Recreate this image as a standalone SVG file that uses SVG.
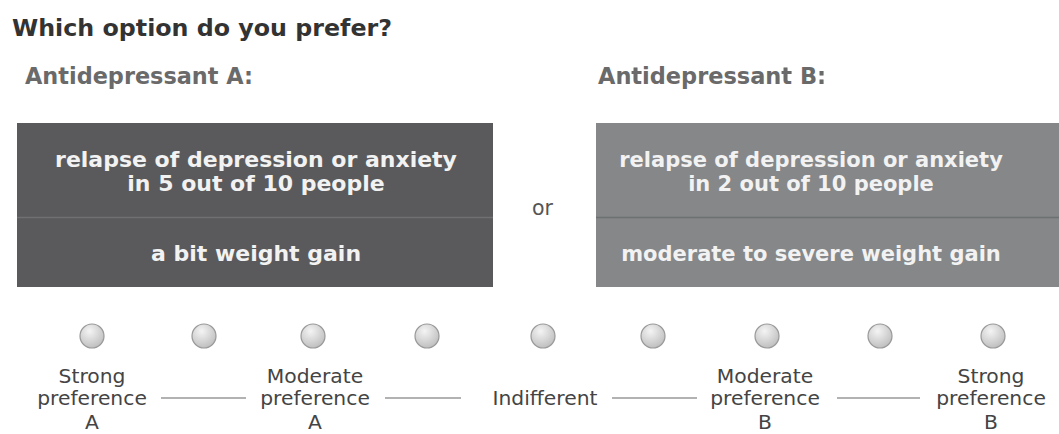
<svg xmlns="http://www.w3.org/2000/svg" width="1059" height="434" viewBox="0 0 1059 434">
<style>
.title{font-family:"DejaVu Sans",Verdana,sans-serif;font-weight:bold;font-size:23.5px;fill:#333}
.sub{font-family:"DejaVu Sans",Verdana,sans-serif;font-weight:bold;font-size:23px;fill:#6a6a6a}
.box{font-family:"DejaVu Sans",Verdana,sans-serif;font-weight:bold;font-size:22px;fill:#f2f2f2;text-anchor:middle}
.boxb{font-family:"DejaVu Sans",Verdana,sans-serif;font-weight:bold;font-size:21px;fill:#f2f2f2;text-anchor:middle}
.lbl{font-family:"DejaVu Sans",Verdana,sans-serif;font-size:20.3px;fill:#444;text-anchor:middle}
.or{font-family:"DejaVu Sans",Verdana,sans-serif;font-size:20.5px;fill:#555}
.rad{fill:url(#g);stroke:#999;stroke-width:1.2}
.conn{stroke:#999;stroke-width:1.5}
</style>
<defs>
<radialGradient id="g" cx="0.4" cy="0.3" r="0.8">
<stop offset="0" stop-color="#f4f4f4"/>
<stop offset="1" stop-color="#b8b8b8"/>
</radialGradient>
</defs>
<rect width="1059" height="434" fill="#fff"/>
<text class="title" x="12" y="36" textLength="380" lengthAdjust="spacingAndGlyphs">Which option do you prefer?</text>
<g id="optionA">
<text class="sub" x="25" y="84" textLength="228" lengthAdjust="spacingAndGlyphs">Antidepressant A:</text>
<rect x="17" y="123" width="476" height="164" fill="#5a5a5c"/>
<line x1="17" y1="217.5" x2="493" y2="217.5" stroke="#707072" stroke-width="1.5"/>
<text class="box" x="256" y="167">relapse of depression or anxiety</text>
<text class="box" x="256" y="191">in 5 out of 10 people</text>
<text class="box" x="256" y="261">a bit weight gain</text>
</g>
<text class="or" x="532" y="215">or</text>
<g id="optionB">
<text class="sub" x="598" y="84" textLength="228" lengthAdjust="spacingAndGlyphs">Antidepressant B:</text>
<rect x="596" y="123" width="470" height="164" fill="#858789"/>
<line x1="596" y1="217.5" x2="1059" y2="217.5" stroke="#6e7072" stroke-width="1.5"/>
<text class="boxb" x="811" y="167">relapse of depression or anxiety</text>
<text class="boxb" x="811" y="191">in 2 out of 10 people</text>
<text class="boxb" x="811" y="261">moderate to severe weight gain</text>
</g>
<g id="radios">
<circle class="rad" cx="92" cy="336" r="12"/>
<circle class="rad" cx="204" cy="336" r="12"/>
<circle class="rad" cx="313" cy="336" r="12"/>
<circle class="rad" cx="427" cy="336" r="12"/>
<circle class="rad" cx="543" cy="336" r="12"/>
<circle class="rad" cx="653" cy="336" r="12"/>
<circle class="rad" cx="767" cy="336" r="12"/>
<circle class="rad" cx="880" cy="336" r="12"/>
<circle class="rad" cx="993" cy="336" r="12"/>
</g>
<g id="labels">
<text class="lbl" x="92" y="383">Strong</text>
<text class="lbl" x="92" y="405">preference</text>
<text class="lbl" x="92" y="429">A</text>
<text class="lbl" x="315" y="383">Moderate</text>
<text class="lbl" x="315" y="405">preference</text>
<text class="lbl" x="315" y="429">A</text>
<text class="lbl" x="545" y="405">Indifferent</text>
<text class="lbl" x="765" y="383">Moderate</text>
<text class="lbl" x="765" y="405">preference</text>
<text class="lbl" x="765" y="429">B</text>
<text class="lbl" x="991" y="383">Strong</text>
<text class="lbl" x="991" y="405">preference</text>
<text class="lbl" x="991" y="429">B</text>
</g>
<g id="connectors">
<line class="conn" x1="161" y1="398" x2="246" y2="398"/>
<line class="conn" x1="385" y1="398" x2="461" y2="398"/>
<line class="conn" x1="612" y1="398" x2="697" y2="398"/>
<line class="conn" x1="837" y1="398" x2="920" y2="398"/>
</g>
</svg>
